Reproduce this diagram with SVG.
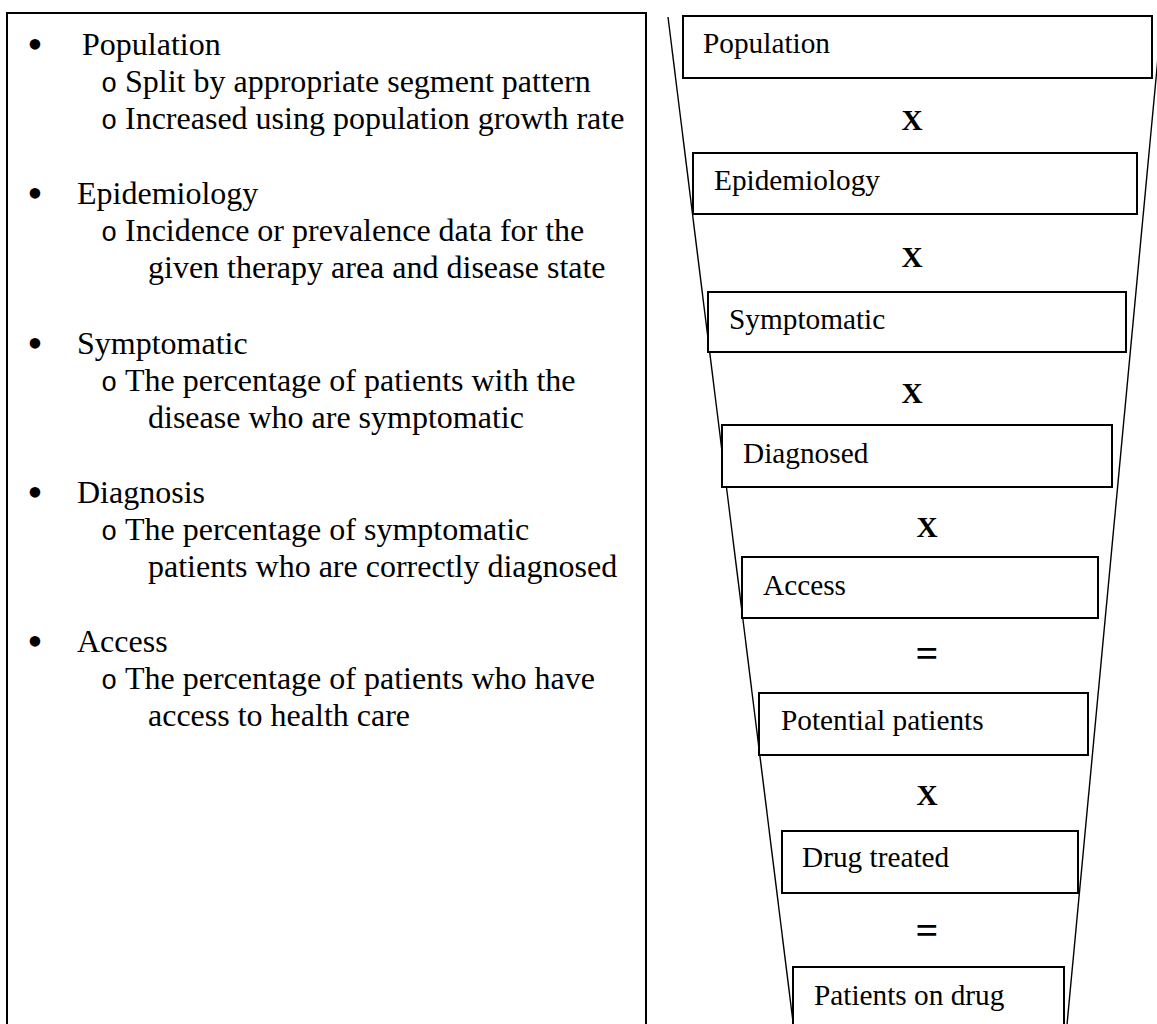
<svg xmlns="http://www.w3.org/2000/svg" width="1157" height="1024" viewBox="0 0 1157 1024">
<style>
.frame{fill:none;stroke:#000;stroke-width:2}
.box{fill:#fff;stroke:#000;stroke-width:2}
.funnel{fill:none;stroke:#000;stroke-width:1.4}
.lt{font-family:"Liberation Serif","Times New Roman",serif;font-size:32px;fill:#000}
.bul{font-family:"Liberation Serif","Times New Roman",serif;font-size:44px;fill:#000;text-anchor:middle}
.sub{font-family:"Liberation Mono","Courier New",monospace;font-size:27px;fill:#000}
.rt{font-family:"Liberation Serif","Times New Roman",serif;font-size:29.3px;fill:#000}
.op{font-family:"Liberation Serif","Times New Roman",serif;font-size:29.3px;font-weight:bold;fill:#000;text-anchor:middle}
.eq{font-family:"Liberation Serif","Times New Roman",serif;font-size:40px;font-weight:bold;fill:#000;text-anchor:middle}
</style>

<g id="notes">
<rect class="frame" x="7" y="13" width="639" height="1030"/>
<g id="note-population">
<text class="bul" x="35" y="59">•</text>
<text class="lt" x="82" y="55">Population</text>
<text class="sub" x="101" y="92">o</text>
<text class="lt" x="125" y="92">Split by appropriate segment pattern</text>
<text class="sub" x="101" y="129">o</text>
<text class="lt" x="125" y="129">Increased using population growth rate</text>
</g>
<g id="note-epidemiology">
<text class="bul" x="35" y="208">•</text>
<text class="lt" x="77" y="204">Epidemiology</text>
<text class="sub" x="101" y="241">o</text>
<text class="lt" x="125" y="241">Incidence or prevalence data for the</text>
<text class="lt" x="148" y="278">given therapy area and disease state</text>
</g>
<g id="note-symptomatic">
<text class="bul" x="35" y="358">•</text>
<text class="lt" x="77" y="354">Symptomatic</text>
<text class="sub" x="101" y="391">o</text>
<text class="lt" x="125" y="391">The percentage of patients with the</text>
<text class="lt" x="148" y="428">disease who are symptomatic</text>
</g>
<g id="note-diagnosis">
<text class="bul" x="35" y="507">•</text>
<text class="lt" x="77" y="503">Diagnosis</text>
<text class="sub" x="101" y="540">o</text>
<text class="lt" x="125" y="540">The percentage of symptomatic</text>
<text class="lt" x="148" y="577">patients who are correctly diagnosed</text>
</g>
<g id="note-access">
<text class="bul" x="35" y="656">•</text>
<text class="lt" x="77" y="652">Access</text>
<text class="sub" x="101" y="689">o</text>
<text class="lt" x="125" y="689">The percentage of patients who have</text>
<text class="lt" x="148" y="726">access to health care</text>
</g>
</g>

<g id="connectors">
<line class="funnel" x1="668" y1="17" x2="794" y2="1030"/>
<line class="funnel" x1="1162" y1="15" x2="1066.5" y2="1030"/>
<text class="op" x="912" y="130">X</text>
<text class="op" x="912" y="267">X</text>
<text class="op" x="912" y="403">X</text>
<text class="op" x="927" y="537">X</text>
<text class="eq" x="927" y="667">=</text>
<text class="op" x="927" y="805">X</text>
<text class="eq" x="927" y="944">=</text>
</g>

<g id="step-population">
<rect class="box" x="683" y="16" width="469" height="62"/>
<text class="rt" x="703" y="53">Population</text>
</g>
<g id="step-epidemiology">
<rect class="box" x="693" y="153" width="444" height="61"/>
<text class="rt" x="714" y="190">Epidemiology</text>
</g>
<g id="step-symptomatic">
<rect class="box" x="708" y="292" width="418" height="60"/>
<text class="rt" x="729" y="329">Symptomatic</text>
</g>
<g id="step-diagnosed">
<rect class="box" x="722" y="425" width="390" height="62"/>
<text class="rt" x="743" y="463">Diagnosed</text>
</g>
<g id="step-access">
<rect class="box" x="742" y="557" width="356" height="61"/>
<text class="rt" x="763" y="595">Access</text>
</g>
<g id="step-potential">
<rect class="box" x="759" y="693" width="329" height="62"/>
<text class="rt" x="781" y="730">Potential patients</text>
</g>
<g id="step-drug-treated">
<rect class="box" x="782" y="831" width="296" height="62"/>
<text class="rt" x="802" y="867">Drug treated</text>
</g>
<g id="step-patients-on-drug">
<rect class="box" x="793" y="967" width="271" height="70"/>
<text class="rt" x="814" y="1005">Patients on drug</text>
</g>
</svg>
